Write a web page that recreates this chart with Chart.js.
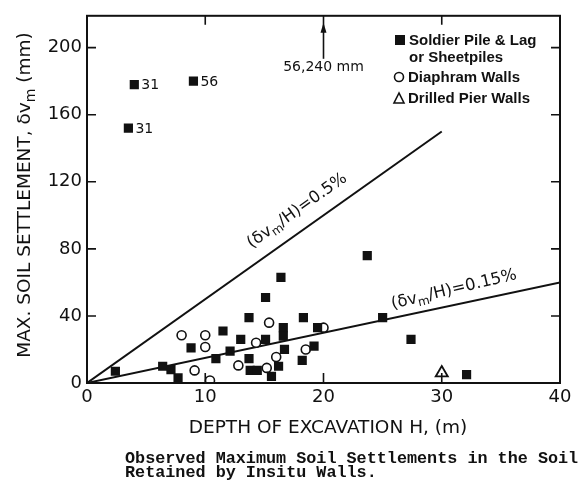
<!DOCTYPE html>
<html>
<head>
<meta charset="utf-8">
<script src="https://cdn.jsdelivr.net/npm/chart.js@4.4.1/dist/chart.umd.min.js"></script>
<style>
  html, body { margin: 0; padding: 0; background: #fff; }
  #wrap { width: 581px; height: 488px; }
</style>
</head>
<body>
<div id="wrap"><canvas id="chart" width="581" height="488"></canvas></div>
<script>
// depth of excavation H (m) / max soil settlement (mm)
const soldierDepth = [3.5, 4, 9, 2.4, 6.4, 7.1, 7.7, 8.8, 10.9, 11.5, 12.1, 13.0, 13.7, 13.7, 13.8, 14.4,
  15.1, 15.1, 15.6, 16.2, 16.4, 16.6, 16.6, 16.7, 18.2, 18.3, 19.2, 19.5, 23.7, 25, 27.4, 32.1];
const soldierSettle = [152, 178, 180, 7, 10, 8, 3, 21, 14.5, 31, 19, 26, 39, 14.5, 7.5, 7.5,
  51, 26, 4, 10, 63, 33, 28, 20, 13.5, 39, 22, 33, 76, 39, 26, 5];

const diaphramDepth = [8.0, 10.0, 10.0, 9.1, 10.4, 12.8, 14.3, 15.4, 16.0, 15.2, 18.5, 20.0];
const diaphramSettle = [28.5, 28.5, 21.5, 7.5, 1.5, 10.5, 24, 36, 15.5, 9, 20, 33];

const pierDepth = [30];
const pierSettle = [6];

// guide lines  dv/H = 0.5 %  and  0.15 %
const highDepth = [0, 30];
const highSettle = [0, 150];
const lowDepth = [0, 40];
const lowSettle = [0, 60];

// numbers written beside some points
const noteDepth = [3.5, 4, 9];
const noteSettle = [152, 178, 180];
const noteText = ['31', '31', '56'];

// case off the scale, shown by the arrow
const offDepth = 20;
const offText = '56,240 mm';

const xLabels = [0, 10, 20, 30, 40];
const yLabels = [0, 40, 80, 120, 160, 200];

const ink = '#111';
const pts = (xs, ys) => xs.map((x, i) => ({ x: x, y: ys[i] }));

// text with a subscript part, optionally rotated
function richText(ctx, parts, x, y, angle, size) {
  const main = size + 'px "DejaVu Sans"';
  const sub = Math.round(size * 0.75) + 'px "DejaVu Sans"';
  let w = 0;
  parts.forEach(p => { ctx.font = p.sub ? sub : main; w += ctx.measureText(p.t).width; });
  ctx.save();
  ctx.translate(x, y);
  ctx.rotate(angle);
  ctx.textBaseline = 'middle';
  ctx.textAlign = 'left';
  let cx = -w / 2;
  parts.forEach(p => {
    ctx.font = p.sub ? sub : main;
    ctx.fillText(p.t, cx, p.sub ? size * 0.3 : 0);
    cx += ctx.measureText(p.t).width;
  });
  ctx.restore();
}

function lineLabel(ctx, x, y, d0, d1, atDepth, lift, tilt, parts) {
  const x0 = x.getPixelForValue(d0[0]), y0 = y.getPixelForValue(d1[0]);
  const x1 = x.getPixelForValue(d0[1]), y1 = y.getPixelForValue(d1[1]);
  const ang = Math.atan2(y1 - y0, x1 - x0);
  const px = x.getPixelForValue(atDepth);
  const py = y0 + (y1 - y0) * (px - x0) / (x1 - x0);
  richText(ctx, parts, px + Math.sin(ang) * lift, py - Math.cos(ang) * lift, ang + tilt, 16.5);
}

const paper = {
  id: 'paper',
  afterDraw(chart) {
    const { ctx, chartArea: a, scales: { x, y } } = chart;
    ctx.save();
    ctx.strokeStyle = ink;
    ctx.fillStyle = ink;

    // frame
    ctx.lineWidth = 2;
    ctx.strokeRect(a.left, a.top, a.right - a.left, a.bottom - a.top);

    // inward tick marks
    ctx.lineWidth = 1.6;
    ctx.beginPath();
    y.ticks.forEach(t => {
      if (t.value <= 0 || t.value > 200 || t.value % 20) return;
      const p = y.getPixelForValue(t.value);
      ctx.moveTo(a.left, p); ctx.lineTo(a.left + 9, p);
      ctx.moveTo(a.right, p); ctx.lineTo(a.right - 9, p);
    });
    x.ticks.forEach(t => {
      if (t.value <= 0 || t.value >= 40) return;
      const p = x.getPixelForValue(t.value);
      ctx.moveTo(p, a.bottom); ctx.lineTo(p, a.bottom - 10);
      if (t.value !== offDepth) { ctx.moveTo(p, a.top); ctx.lineTo(p, a.top + 9); }
    });
    ctx.stroke();

    // arrow to the off-scale case
    const ax = x.getPixelForValue(offDepth);
    ctx.beginPath();
    ctx.moveTo(ax, a.top); ctx.lineTo(ax, a.top + 43);
    ctx.stroke();
    ctx.beginPath();
    ctx.moveTo(ax, a.top + 7); ctx.lineTo(ax - 3, a.top + 17); ctx.lineTo(ax + 3, a.top + 17);
    ctx.closePath(); ctx.fill();
    ctx.font = '14px "DejaVu Sans"';
    ctx.textAlign = 'center';
    ctx.textBaseline = 'middle';
    ctx.fillText(offText, ax, a.top + 52);

    // point notes
    ctx.textAlign = 'left';
    noteText.forEach((t, i) => {
      ctx.fillText(t, x.getPixelForValue(noteDepth[i]) + 7, y.getPixelForValue(noteSettle[i]) + 1);
    });

    // legend
    ctx.font = 'bold 15px "Liberation Sans"';
    ctx.fillRect(395, 35, 10, 10);
    ctx.fillText('Soldier Pile & Lag', 409, 41);
    ctx.fillText('or Sheetpiles', 409, 58);
    ctx.lineWidth = 1.6;
    ctx.beginPath(); ctx.arc(399, 77, 4.5, 0, Math.PI * 2); ctx.stroke();
    ctx.fillText('Diaphram Walls', 408, 78);
    ctx.beginPath(); ctx.moveTo(399, 93); ctx.lineTo(394, 103); ctx.lineTo(404, 103); ctx.closePath(); ctx.stroke();
    ctx.fillText('Drilled Pier Walls', 408, 99);

    // labels along the guide lines
    lineLabel(ctx, x, y, highDepth, highSettle, 18.7, 19, 0,
      [{ t: '(δv' }, { t: 'm', sub: true }, { t: '/H)=0.5%' }]);
    lineLabel(ctx, x, y, lowDepth, lowSettle, 31.3, 15, -0.025,
      [{ t: '(δv' }, { t: 'm', sub: true }, { t: '/H)=0.15%' }]);

    // axis titles
    ctx.save();
    ctx.translate(25, 195);
    ctx.rotate(-Math.PI / 2);
    const t1 = 'MAX. SOIL SETTLEMENT, δv', t2 = 'm', t3 = ' (mm)';
    ctx.font = '18.5px "DejaVu Sans"';
    const w1 = ctx.measureText(t1).width, w3 = ctx.measureText(t3).width;
    ctx.font = '14px "DejaVu Sans"';
    const w2 = ctx.measureText(t2).width;
    let cx = -(w1 + w2 + w3) / 2;
    ctx.textAlign = 'left';
    ctx.font = '18.5px "DejaVu Sans"';
    ctx.fillText(t1, cx, 0); cx += w1;
    ctx.font = '14px "DejaVu Sans"';
    ctx.fillText(t2, cx, 6); cx += w2;
    ctx.font = '18.5px "DejaVu Sans"';
    ctx.fillText(t3, cx, 0);
    ctx.restore();

    ctx.font = '18.5px "DejaVu Sans"';
    ctx.textAlign = 'center';
    ctx.fillText('DEPTH OF EXCAVATION H, (m)', 328, 428);

    // caption
    ctx.font = 'bold 16.8px "Liberation Mono"';
    ctx.textAlign = 'left';
    ctx.textBaseline = 'alphabetic';
    ctx.fillText('Observed Maximum Soil Settlements in the Soil', 125, 463);
    ctx.fillText('Retained by Insitu Walls.', 125, 477);
    ctx.restore();
  }
};

new Chart(document.getElementById('chart').getContext('2d'), {
  type: 'scatter',
  data: {
    datasets: [
      {
        label: 'Soldier Pile & Lag or Sheetpiles',
        data: pts(soldierDepth, soldierSettle),
        pointStyle: 'rect', pointRadius: 6.5, pointBorderWidth: 0,
        backgroundColor: ink, borderColor: ink, order: 1
      },
      {
        label: 'Diaphram Walls',
        data: pts(diaphramDepth, diaphramSettle),
        pointStyle: 'circle', pointRadius: 4.5, pointBorderWidth: 1.6,
        backgroundColor: '#fff', borderColor: ink, order: 1
      },
      {
        label: 'Drilled Pier Walls',
        data: pts(pierDepth, pierSettle),
        pointStyle: 'triangle', pointRadius: 7, pointBorderWidth: 1.8,
        backgroundColor: '#fff', borderColor: ink, order: 1
      },
      {
        label: '0.5%',
        data: pts(highDepth, highSettle),
        showLine: true, pointRadius: 0, borderColor: ink, borderWidth: 2, order: 2
      },
      {
        label: '0.15%',
        data: pts(lowDepth, lowSettle),
        showLine: true, pointRadius: 0, borderColor: ink, borderWidth: 2, order: 2
      }
    ]
  },
  options: {
    responsive: false,
    animation: false,
    layout: { padding: { left: 0, top: 10, right: 21, bottom: 0 } },
    plugins: { legend: { display: false }, tooltip: { enabled: false } },
    scales: {
      x: {
        type: 'linear', min: 0, max: 40,
        afterFit: s => { s.height = 105; },
        grid: { display: false, drawTicks: false },
        border: { display: false },
        ticks: {
          stepSize: 10, padding: 4, color: ink,
          font: { family: 'DejaVu Sans', size: 18 },
          callback: v => xLabels.includes(v) ? String(v) : null
        }
      },
      y: {
        type: 'linear', min: 0, max: 219,
        afterFit: s => { s.width = 87; },
        grid: { display: false, drawTicks: false },
        border: { display: false },
        ticks: {
          stepSize: 20, padding: 5, color: ink,
          font: { family: 'DejaVu Sans', size: 18 },
          callback: v => yLabels.includes(v) ? String(v) : null
        }
      }
    }
  },
  plugins: [paper]
});
</script>
</body>
</html>
